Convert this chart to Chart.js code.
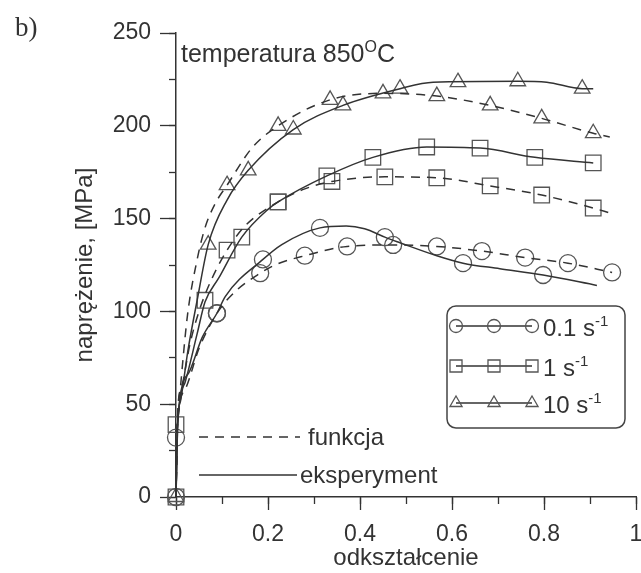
<!DOCTYPE html>
<html>
<head>
<meta charset="utf-8">
<script src="https://cdn.jsdelivr.net/npm/chart.js@4"></script>
<style>
  body { margin: 0; background: #fff; }
  canvas { display: block; }
</style>
</head>
<body>
<canvas id="chart" width="641" height="573"></canvas>
<script>
// Curves (strain, stress in MPa)
const fun10X = [0, 0.003, 0.01, 0.025, 0.046, 0.063, 0.085, 0.111, 0.165, 0.222, 0.335, 0.45, 0.567, 0.683, 0.795, 0.907, 0.943];
const fun10Y = [0, 40, 60, 98, 128, 145, 158, 168, 188, 200, 214, 217.5, 216, 211, 204, 196, 194];
const exp10X = [0, 0.004, 0.01, 0.026, 0.046, 0.07, 0.111, 0.157, 0.255, 0.363, 0.487, 0.559, 0.743, 0.806, 0.883, 0.907];
const exp10Y = [0, 42, 52, 79, 106, 136, 160, 176, 198, 211, 220, 223.5, 224, 223.5, 220, 220];

const fun1X = [0, 0.003, 0.015, 0.03, 0.05, 0.075, 0.111, 0.15, 0.222, 0.28, 0.339, 0.454, 0.567, 0.683, 0.795, 0.907, 0.943];
const fun1Y = [0, 40, 62, 82, 100, 116, 133, 146, 159, 166, 170, 172.5, 172, 167.6, 162.7, 155.7, 153];
const exp1X = [0, 0.004, 0.02, 0.046, 0.063, 0.093, 0.143, 0.2, 0.222, 0.328, 0.428, 0.545, 0.661, 0.78, 0.907];
const exp1Y = [0, 40, 62, 88, 105, 118, 140, 155, 159, 173, 183, 188.6, 188, 183, 180];

const fun01X = [0, 0.003, 0.02, 0.05, 0.089, 0.13, 0.183, 0.215, 0.28, 0.372, 0.472, 0.567, 0.665, 0.759, 0.852, 0.948];
const fun01Y = [0, 38, 58, 80, 99, 111, 120.6, 125, 130, 135, 135.8, 135, 132.5, 129, 126, 121];
const exp01X = [0, 0.003, 0.028, 0.057, 0.089, 0.107, 0.189, 0.23, 0.313, 0.37, 0.41, 0.454, 0.487, 0.567, 0.624, 0.704, 0.798, 0.915];
const exp01Y = [0, 38, 67, 86, 99, 108, 128, 136, 145, 146, 144.5, 140, 137, 130, 126, 123, 119.6, 114];

// Marker positions
const triFunX = [0, 0.111, 0.222, 0.335, 0.45, 0.567, 0.683, 0.795, 0.907];
const triFunY = [0, 168, 200, 214, 217.5, 216, 211, 204, 196];
const triExpX = [0.07, 0.157, 0.255, 0.363, 0.487, 0.613, 0.743, 0.883];
const triExpY = [136, 176, 198, 211, 220, 223.5, 224, 220];
const sqFunX = [0, 0.111, 0.222, 0.339, 0.454, 0.567, 0.683, 0.795, 0.907];
const sqFunY = [0, 133, 159, 170, 172.5, 172, 167.6, 162.7, 155.7];
const sqExpX = [0, 0.063, 0.143, 0.222, 0.328, 0.428, 0.545, 0.661, 0.78, 0.907];
const sqExpY = [39, 106, 140, 159, 173, 183, 188.6, 188, 183, 180];
const circFunX = [0, 0.089, 0.183, 0.28, 0.372, 0.472, 0.567, 0.665, 0.759, 0.852, 0.948];
const circFunY = [0, 99, 120.6, 130, 135, 135.8, 135, 132.5, 129, 126, 121];
const circExpX = [0, 0.089, 0.189, 0.313, 0.454, 0.624, 0.798];
const circExpY = [32, 99, 128, 145, 140, 126, 119.6];

const ink = '#333';
const markInk = '#555';

function toPoints(xs, ys) {
    return xs.map((x, i) => ({ x: x, y: ys[i] }));
}

function lineSet(xs, ys, dashed) {
    return {
        data: toPoints(xs, ys),
        showLine: true,
        borderColor: ink,
        borderWidth: 1.5,
        borderDash: dashed ? [9, 7] : [],
        pointRadius: 0,
        cubicInterpolationMode: 'monotone',
        fill: false,
        clip: false
    };
}

function markSet(xs, ys, style, r) {
    return {
        data: toPoints(xs, ys),
        showLine: false,
        pointStyle: style,
        pointRadius: r,
        pointBorderColor: markInk,
        pointBackgroundColor: 'rgba(0,0,0,0)',
        pointBorderWidth: 1.3,
        clip: false
    };
}

// small helper for text with superscript parts
function drawParts(ctx, x, y, parts, size) {
    parts.forEach(p => {
        const s = p.sup ? Math.round(size * 0.62) : size;
        ctx.font = s + 'px "Liberation Sans", Arial, sans-serif';
        ctx.fillText(p.t, x, p.sup ? y - size * 0.42 : y);
        x += ctx.measureText(p.t).width;
    });
}

const extrasPlugin = {
    id: 'extras',
    afterDraw(chart) {
        const ctx = chart.ctx;
        ctx.save();
        ctx.fillStyle = ink;
        ctx.strokeStyle = ink;
        ctx.textBaseline = 'alphabetic';
        ctx.textAlign = 'left';

        // panel label
        ctx.font = '27px "Liberation Serif", "DejaVu Serif", serif';
        ctx.fillText('b)', 15, 36);

        // annotation
        drawParts(ctx, 181, 62, [{ t: 'temperatura 850' }, { t: 'O', sup: true }, { t: 'C' }], 25);

        // line style legend
        ctx.lineWidth = 1.5;
        ctx.setLineDash([9, 7]);
        ctx.beginPath();
        ctx.moveTo(199, 437);
        ctx.lineTo(300, 437);
        ctx.stroke();
        ctx.setLineDash([]);
        ctx.beginPath();
        ctx.moveTo(199, 475);
        ctx.lineTo(297, 475);
        ctx.stroke();
        drawParts(ctx, 308, 445, [{ t: 'funkcja' }], 24);
        drawParts(ctx, 300, 483, [{ t: 'eksperyment' }], 24);

        // marker legend box
        ctx.strokeStyle = '#444';
        ctx.lineWidth = 1.5;
        ctx.beginPath();
        ctx.roundRect(447, 306, 178, 122, 9);
        ctx.stroke();

        const rows = [
            { y: 326, style: 'circle', r: 6.5, parts: [{ t: '0.1 s' }, { t: '-1', sup: true }] },
            { y: 366, style: 'rect', r: 8.5, parts: [{ t: '1 s' }, { t: '-1', sup: true }] },
            { y: 403, style: 'triangle', r: 7, parts: [{ t: '10 s' }, { t: '-1', sup: true }] }
        ];
        rows.forEach(row => {
            ctx.strokeStyle = ink;
            ctx.lineWidth = 1.3;
            ctx.beginPath();
            ctx.moveTo(456, row.y);
            ctx.lineTo(532, row.y);
            ctx.stroke();
            [456, 494, 532].forEach(px => {
                ctx.fillStyle = 'rgba(0,0,0,0)';
                ctx.strokeStyle = markInk;
                ctx.lineWidth = 1.3;
                Chart.helpers.drawPoint(ctx, {
                    pointStyle: row.style,
                    radius: row.r,
                    borderWidth: 1.3
                }, px, row.y);
            });
            ctx.fillStyle = ink;
            drawParts(ctx, 543, row.y + 10, row.parts, 24);
        });
        ctx.restore();
    }
};

Chart.defaults.font.family = '"Liberation Sans", Arial, sans-serif';
Chart.defaults.color = ink;

new Chart(document.getElementById('chart'), {
    type: 'scatter',
    data: {
        datasets: [
            lineSet(fun10X, fun10Y, true),
            lineSet(exp10X, exp10Y, false),
            lineSet(fun1X, fun1Y, true),
            lineSet(exp1X, exp1Y, false),
            lineSet(fun01X, fun01Y, true),
            lineSet(exp01X, exp01Y, false),
            markSet(triFunX, triFunY, 'triangle', 9),
            markSet(triExpX, triExpY, 'triangle', 9),
            markSet(sqFunX, sqFunY, 'rect', 11),
            markSet(sqExpX, sqExpY, 'rect', 11),
            markSet(circFunX, circFunY, 'circle', 8.5),
            markSet(circExpX, circExpY, 'circle', 8.5)
        ]
    },
    options: {
        responsive: false,
        animation: false,
        devicePixelRatio: 1,
        layout: { autoPadding: false, padding: { left: 0, top: 33, right: 5, bottom: 0 } },
        plugins: {
            legend: { display: false },
            tooltip: { enabled: false }
        },
        scales: {
            x: {
                type: 'linear',
                min: 0,
                max: 1,
                weight: 1,
                ticks: {
                    stepSize: 0.2, padding: 11, font: { size: 23 }, color: ink, maxRotation: 0,
                    callback: v => String(Number(v.toFixed(1)))
                },
                grid: { drawOnChartArea: false, tickLength: 13, color: ink, tickWidth: 1.3 },
                border: { color: ink, width: 1.5 },
                title: { display: true, text: 'odkształcenie', font: { size: 24 }, color: ink, padding: { top: 0, bottom: 0 } },
                afterFit: scale => {
                    scale.height = 76;
                    scale.paddingLeft = 0;
                    scale.paddingRight = 0;
                }
            },
            xMinor: {
                type: 'linear',
                position: 'bottom',
                min: 0,
                max: 1,
                weight: 0,
                ticks: { stepSize: 0.1, display: false },
                grid: { drawOnChartArea: false, tickLength: 7, color: ink, tickWidth: 1.3 },
                border: { display: false },
                afterFit: scale => {
                    scale.height = 0;
                    scale.paddingLeft = 0;
                    scale.paddingRight = 0;
                }
            },
            y: {
                type: 'linear',
                position: 'left',
                min: 0,
                max: 250,
                weight: 1,
                ticks: { stepSize: 50, padding: 9, font: { size: 23 }, color: ink },
                grid: { drawOnChartArea: false, tickLength: 16, color: ink, tickWidth: 1.3 },
                border: { color: ink, width: 1.5 },
                title: { display: true, text: 'naprężenie, [MPa]', font: { size: 24 }, color: ink, padding: { top: 71, bottom: 0 } },
                afterFit: scale => { scale.width = 176; }
            },
            yMinor: {
                type: 'linear',
                position: 'left',
                min: 0,
                max: 250,
                weight: 0,
                ticks: { stepSize: 25, display: false },
                grid: { drawOnChartArea: false, tickLength: 7, color: ink, tickWidth: 1.3 },
                border: { display: false },
                afterFit: scale => { scale.width = 0; }
            }
        }
    },
    plugins: [extrasPlugin]
});
</script>
</body>
</html>
